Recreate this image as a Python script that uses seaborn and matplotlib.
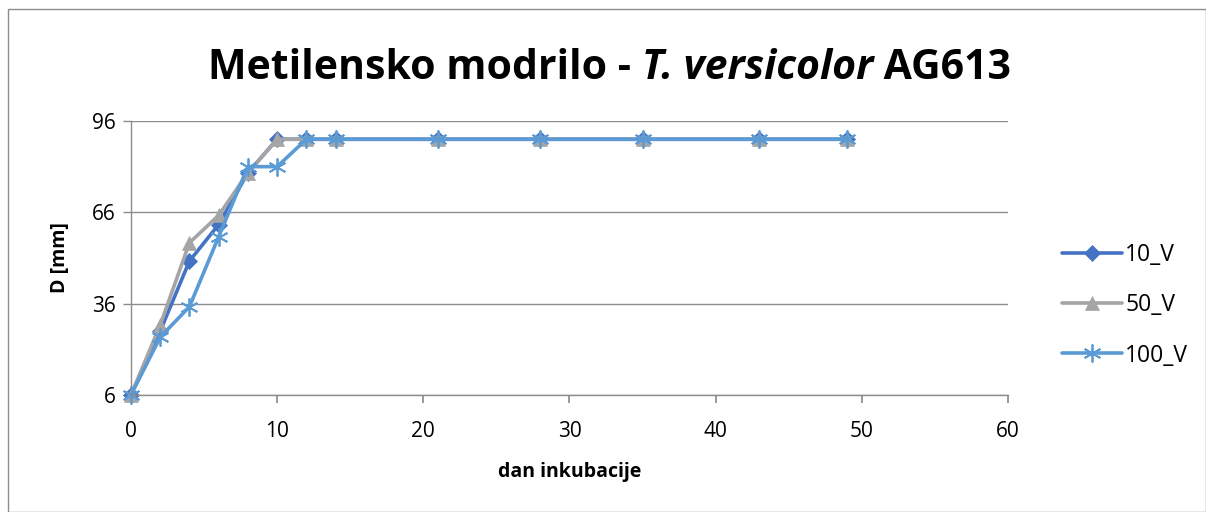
import numpy as np
import pandas as pd
import matplotlib
matplotlib.use("Agg")
import matplotlib.pyplot as plt
import seaborn as sns
from matplotlib.patches import Rectangle

# dan inkubacije
dan = [0, 2, 4, 6, 8, 10, 12, 14, 21, 28, 35, 43, 49]
# premer D [mm]
d_10 = [6, 27, 50, 62, 79, 90, 90, 90, 90, 90, 90, 90, 90]
d_50 = [6, 29, 56, 65, 79, 90, 90, 90, 90, 90, 90, 90, 90]
d_100 = [6, 25, 35, 58, 81, 81, 90, 90, 90, 90, 90, 90, 90]
serije = ["10_V", "50_V", "100_V"]

df = pd.DataFrame({
    "dan": dan * 3,
    "D": d_10 + d_50 + d_100,
    "serija": [s for s in serije for _ in dan],
})

sns.set_theme(style="white")
plt.rcParams["font.family"] = ["Open Sans", "DejaVu Sans"]
plt.rcParams["text.color"] = "black"
plt.rcParams["axes.labelcolor"] = "black"
plt.rcParams["xtick.color"] = "black"
plt.rcParams["ytick.color"] = "black"

barve = {"10_V": "#4472C4", "50_V": "#A5A5A5", "100_V": "#5B9BD5"}
markerji = {"10_V": "D", "50_V": "^", "100_V": (6, 2, 0)}
velikosti = {"10_V": 8, "50_V": 10, "100_V": 13}

fig = plt.figure(figsize=(12.06, 5.12), dpi=100)
ax = fig.add_axes([0.1086, 0.2285, 0.7272, 0.5352])

for s in serije:
    sub = df[df["serija"] == s]
    sns.lineplot(data=sub, x="dan", y="D", ax=ax, color=barve[s], lw=2.6,
                 marker=markerji[s], markersize=velikosti[s],
                 markeredgecolor=barve[s], markeredgewidth=1.3 if s == "100_V" else 0.5,
                 label=s)

ax.set_xlim(0, 60)
ax.set_ylim(6, 96)
ax.set_xticks(range(0, 61, 10))
ax.set_yticks([6, 36, 66, 96])
ax.grid(axis="y", color="#8c8c8c", lw=1)
ax.grid(axis="x", visible=False)
for sp in ["top", "right"]:
    ax.spines[sp].set_visible(False)
for sp in ["left", "bottom"]:
    ax.spines[sp].set_color("#8c8c8c")
    ax.spines[sp].set_linewidth(1)
ax.tick_params(axis="x", bottom=True, length=6, color="#8c8c8c", labelcolor="black",
               labelsize=15, pad=13)
ax.tick_params(axis="y", left=True, length=6, width=1, color="#8c8c8c", labelcolor="black",
               labelsize=15, pad=5)
ax.set_xlabel("dan inkubacije", fontsize=14, fontweight="bold", labelpad=14)
ax.set_ylabel("D [mm]", fontsize=14, fontweight="bold", labelpad=16)
for ln in ax.lines:
    ln.set_clip_on(False)

leg = ax.legend(loc="center left", bbox_to_anchor=(0.873, 0.404), bbox_transform=fig.transFigure,
                frameon=False, fontsize=16.5, handlelength=2.6, labelspacing=1.15,
                handletextpad=0.15, borderaxespad=0)

# naslov iz treh delov (pokončno / ležeče / pokončno)
deli = [("Metilensko modrilo - ", "normal"), ("T. versicolor", "italic"), (" AG613", "normal")]
fig.canvas.draw()
r = fig.canvas.get_renderer()
teksti = []
sirina = 0
for t, st in deli:
    tx = fig.text(0, 0.867, t, fontsize=29.5, fontweight="bold", style=st,
                  va="center", ha="left", color="black")
    w = tx.get_window_extent(renderer=r).width
    teksti.append((tx, w))
    sirina += w
x0 = (610 - sirina / 2)
for tx, w in teksti:
    tx.set_x(x0 / fig.bbox.width)
    x0 += w

fig.add_artist(Rectangle((8 / 1206, 0), 1 - 8 / 1206, 1 - 9 / 512, transform=fig.transFigure,
                         fill=False, edgecolor="#8c8c8c", lw=1))

fig.savefig("out.png", dpi=100)
